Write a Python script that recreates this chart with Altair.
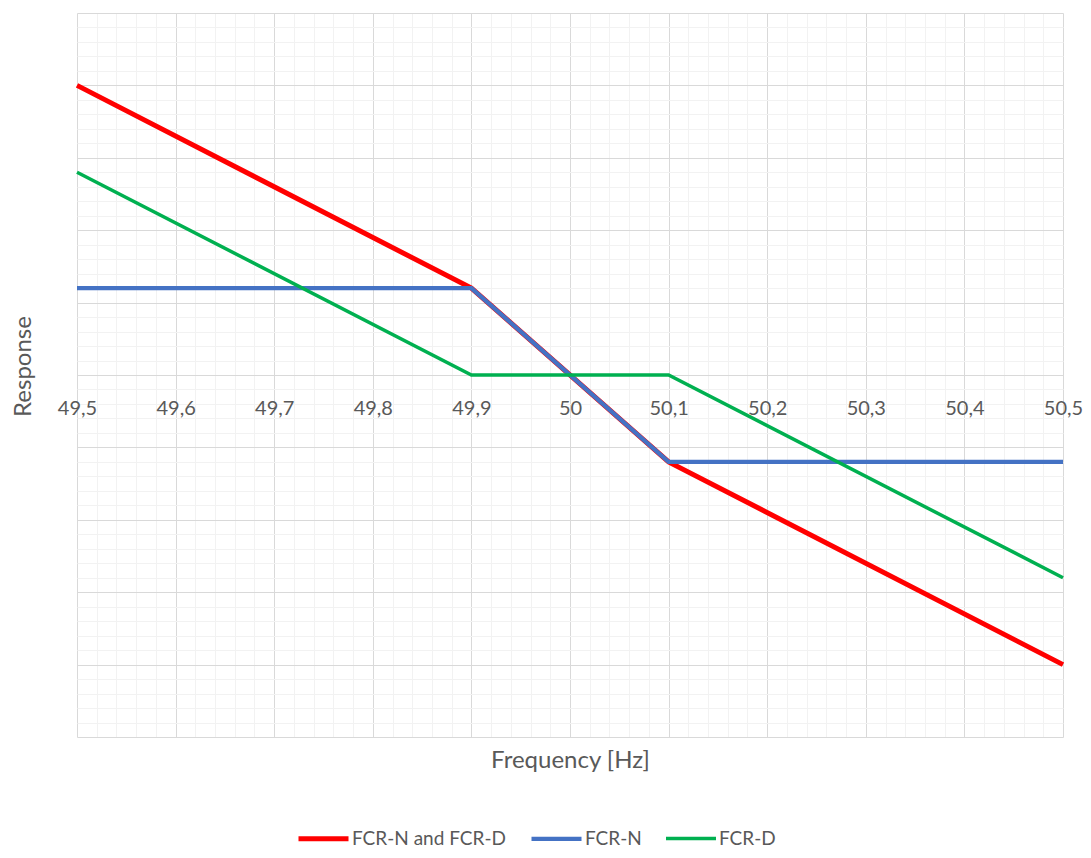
import altair as alt
import pandas as pd

# ---- data ----
freq = [49.5, 49.9, 50.1, 50.5]
fcr_nd = [4.0, 1.2, -1.2, -4.0]
fcr_n = [1.2, 1.2, -1.2, -1.2]
fcr_d = [2.8, 0.0, 0.0, -2.8]
series_names = ["FCR-N and FCR-D", "FCR-N", "FCR-D"]
series_colors = ["#FF0000", "#4472C4", "#00B050"]
series_widths = [5, 3.5, 3.5]

# axis tick / grid values
x_grid = [round(49.5 + 0.02 * i, 2) for i in range(51)]
y_grid = [round(-5 + 0.2 * i, 1) for i in range(51)]

rows = []
for name, vals in zip(series_names, [fcr_nd, fcr_n, fcr_d]):
    for f, v in zip(freq, vals):
        rows.append({"series": name, "freq": f, "resp": v})
df = pd.DataFrame(rows)

FONT = "Lato"
TXT = "#595959"
W, H = 986, 724

x_major = "abs(datum.value*10 - round(datum.value*10)) < 0.001"
y_major = "abs(datum.value - round(datum.value)) < 0.001"

x_enc = alt.X(
    "freq:Q",
    scale=alt.Scale(domain=[49.5, 50.5], nice=False, zero=False),
    axis=alt.Axis(
        values=x_grid,
        title="Frequency [Hz]",
        titleFont=FONT, titleFontSize=24, titleFontWeight="normal", titleColor=TXT,
        titleY=385, titleBaseline="middle",
        labelExpr=f"({x_major}) ? replace(format(datum.value, '.2~f'), '.', ',') : ''",
        labelFont=FONT, labelFontSize=20, labelColor=TXT,
        labelOverlap=False, labelFlush=False, labelBound=False,
        labelPadding=23,
        ticks=False, tickSize=0, domain=False,
        offset=-H / 2,
        grid=True,
        gridColor=alt.condition(x_major, alt.value("#D9D9D9"), alt.value("#F2F2F2")),
        gridWidth=1,
    ),
)
y_enc = alt.Y(
    "resp:Q",
    scale=alt.Scale(domain=[-5, 5], nice=False),
    axis=alt.Axis(
        values=y_grid,
        title="Response",
        titleFont=FONT, titleFontSize=24, titleFontWeight="normal", titleColor=TXT,
        titleX=-54, titleY=353, titleBaseline="middle", titleAngle=270,
        labels=False, ticks=False, domain=False,
        grid=True,
        gridColor=alt.condition(y_major, alt.value("#D9D9D9"), alt.value("#F2F2F2")),
        gridWidth=1,
    ),
)

legend_props = dict(
    title=None, orient="none", direction="horizontal",
    legendX=219, legendY=798,
    symbolType="stroke", symbolSize=2500,
    labelFont=FONT, labelFontSize=19, labelColor=TXT, labelLimit=400,
    labelOffset=1, columnPadding=17, padding=0,
)
color_enc = alt.Color(
    "series:N",
    scale=alt.Scale(domain=series_names, range=series_colors),
    legend=alt.Legend(**legend_props),
)
width_enc = alt.StrokeWidth(
    "series:N",
    scale=alt.Scale(domain=series_names, range=series_widths),
    legend=alt.Legend(**legend_props),
)

layers = []
for name in series_names:
    layers.append(
        alt.Chart(df)
        .transform_filter(alt.datum.series == name)
        .mark_line(strokeJoin="miter")
        .encode(x=x_enc, y=y_enc, color=color_enc, strokeWidth=width_enc)
    )

chart = (
    alt.layer(*layers)
    .properties(
        width=W, height=H,
        autosize=alt.AutoSizeParams(type="none"),
        padding={"left": 69, "top": 5, "right": 20, "bottom": 113},
    )
    .configure_view(stroke=None)
)

chart.save("out.html", embed_options={"renderer": "svg", "actions": False})
